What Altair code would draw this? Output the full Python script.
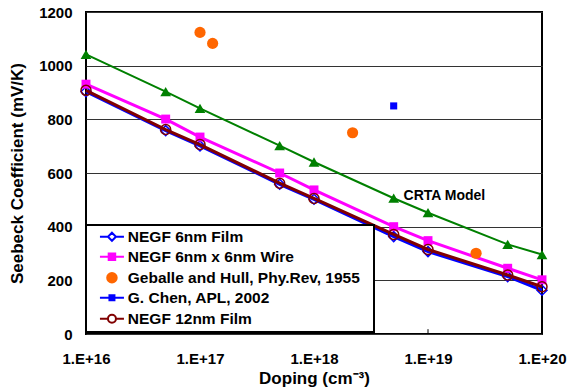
import altair as alt
import pandas as pd

# ---------------- data ----------------
doping = [1e16, 5e16, 1e17, 5e17, 1e18, 5e18, 1e19, 5e19, 1e20]
negf_6nm_film = [903, 758, 701, 558, 502, 363, 307, 214, 163]
negf_6nm_wire = [931, 801, 734, 600, 537, 400, 348, 245, 202]
negf_12nm_film = [908, 762, 706, 562, 505, 371, 315, 220, 176]
crta_model = [1042, 903, 841, 702, 641, 506, 452, 334, 296]

geballe_doping = [1.0e17, 1.29e17, 2.18e18, 2.64e19]
geballe_seebeck = [1124, 1083, 750, 301]

chen_doping = [5.0e18]
chen_seebeck = [850]

crta_label_doping = [6.1e18]
crta_label_seebeck = [516]
crta_label = ["CRTA Model"]

x_ticks = [1e16, 1e17, 1e18, 1e19, 1e20]
inner_ticks = [1e17, 1e18, 1e19]
y_ticks = [0, 200, 400, 600, 800, 1000, 1200]

legend_names = [
    "NEGF 6nm Film",
    "NEGF 6nm x 6nm Wire",
    "Geballe and Hull, Phy.Rev, 1955",
    "G. Chen, APL, 2002",
    "NEGF 12nm Film",
]

# ---------------- styles ----------------
BLUE = "#0000FF"
MAGENTA = "#FF00FF"
ORANGE = "#FF6600"
BROWN = "#800000"
GREEN = "#008000"
FONT = "Liberation Sans"

legend_shapes = [
    "M-2.4,0H-0.8M0.8,0H2.4M0,-0.8L0.8,0L0,0.8L-0.8,0Z",
    "M-2.4,0H2.4M-0.65,-0.65H0.65V0.65H-0.65Z",
    "M0.95,0A0.95,0.95,0,1,1,-0.95,0A0.95,0.95,0,1,1,0.95,0Z",
    "M-2.4,0H2.4M-0.5,-0.5H0.5V0.5H-0.5Z",
    "M-2.4,0H-0.8M0.8,0H2.4M0.8,0A0.8,0.8,0,1,1,-0.8,0A0.8,0.8,0,1,1,0.8,0Z",
]
legend_fill = ["white", MAGENTA, ORANGE, BLUE, "white"]
legend_stroke = [BLUE, MAGENTA, ORANGE, BLUE, BROWN]


def frame(xs, ys):
    return pd.DataFrame({"x": xs, "y": ys})


x_scale = alt.Scale(type="log", domain=[1e16, 1e20], nice=False)
y_scale = alt.Scale(domain=[0, 1200], nice=False, zero=False)

x_axis = alt.Axis(
    values=x_ticks,
    labelExpr="'1.E+' + round(log(datum.value) / LN10)",
    title="Doping (cm⁻³)",
    grid=False, ticks=False, tickSize=0, domain=False,
    labelFlush=False, labelOverlap=False, labelPadding=17,
    labelFont=FONT, labelFontWeight="bold", labelFontSize=15, labelColor="black",
    titleFont=FONT, titleFontWeight="bold", titleFontSize=17, titleColor="black",
    titleX=228, titleY=44, titleAlign="center", titleBaseline="middle",
)
y_axis = alt.Axis(
    values=y_ticks, format="d",
    title="Seebeck Coefficient (mV/K)",
    grid=True, gridColor="#333333", gridWidth=1,
    ticks=False, tickSize=0, domain=False, labelPadding=14,
    labelFont=FONT, labelFontWeight="bold", labelFontSize=15, labelColor="black",
    titleFont=FONT, titleFontWeight="bold", titleFontSize=17, titleColor="black",
    titleX=-69, titleY=161, titleAngle=270, titleAlign="center", titleBaseline="middle",
)

X = alt.X("x:Q", scale=x_scale, axis=x_axis)
Y = alt.Y("y:Q", scale=y_scale, axis=y_axis)

layers = []


def series(xs, ys, color, width, shape, size, filled, sw=1.5):
    d = frame(xs, ys)
    layers.append(alt.Chart(d).mark_line(color=color, strokeWidth=width).encode(x=X, y=Y))
    layers.append(
        alt.Chart(d).mark_point(shape=shape, size=size, filled=filled, color=color,
                                strokeWidth=sw, opacity=1).encode(x=X, y=Y)
    )


series(doping, negf_6nm_film, BLUE, 3, "diamond", 100, False)
series(doping, negf_6nm_wire, MAGENTA, 3, "square", 80, True)
layers.append(
    alt.Chart(frame(geballe_doping, geballe_seebeck))
    .mark_point(shape="circle", size=125, filled=True, color=ORANGE, opacity=1)
    .encode(x=X, y=Y)
)
layers.append(
    alt.Chart(frame(chen_doping, chen_seebeck))
    .mark_point(shape="square", size=50, filled=True, color=BLUE, opacity=1)
    .encode(x=X, y=Y)
)
series(doping, negf_12nm_film, BROWN, 3, "circle", 100, False)
series(doping, crta_model, GREEN, 2, "triangle-up", 115, True)

# CRTA label
layers.append(
    alt.Chart(pd.DataFrame({"x": crta_label_doping, "y": crta_label_seebeck, "t": crta_label}))
    .mark_text(align="left", baseline="middle", font=FONT, fontWeight="bold",
               fontSize=14, color="black")
    .encode(x=X, y=Y, text="t:N")
)

# inward tick marks on x axis
tick_df = pd.DataFrame({"x": inner_ticks, "y": [0] * len(inner_ticks),
                        "y2": [18] * len(inner_ticks)})
layers.append(
    alt.Chart(tick_df).mark_rule(color="black", strokeWidth=1)
    .encode(x=X, y=Y, y2="y2:Q")
)

# invisible layer that drives the legend
leg_df = pd.DataFrame({
    "x": [doping[0], doping[0], geballe_doping[0], chen_doping[0], doping[0]],
    "y": [negf_6nm_film[0], negf_6nm_wire[0], geballe_seebeck[0], chen_seebeck[0],
          negf_12nm_film[0]],
    "series": legend_names,
})
LEG_TITLE = " "
layers.append(
    alt.Chart(leg_df).mark_point(opacity=0, size=100, filled=False)
    .encode(
        x=X, y=Y,
        shape=alt.Shape("series:N", title=LEG_TITLE,
                        scale=alt.Scale(domain=legend_names, range=legend_shapes)),
        fill=alt.Fill("series:N", title=LEG_TITLE,
                      scale=alt.Scale(domain=legend_names, range=legend_fill)),
        stroke=alt.Stroke("series:N", title=LEG_TITLE,
                          scale=alt.Scale(domain=legend_names, range=legend_stroke)),
    )
)

chart = (
    alt.layer(*layers)
    .properties(
        width=456, height=322,
        autosize=alt.AutoSizeParams(type="none"),
        padding={"left": 86, "top": 12, "right": 26, "bottom": 58},
        background="white",
    )
    .configure_view(stroke="black", strokeWidth=2)
    .configure_legend(
        orient="none", legendX=0, legendY=213,
        padding=4, rowPadding=3,
        fillColor="white", strokeColor="black", strokeWidth=2,
        symbolOffset=14.2, labelOffset=8.1,
        symbolSize=100, symbolStrokeWidth=2, symbolOpacity=1,
        labelFont=FONT, labelFontWeight="bold", labelFontSize=15.5,
        labelColor="black", labelLimit=400,
        titleOrient="right", titleFontSize=1, titlePadding=10,
    )
)

chart.save("out.html", embed_options={"renderer": "svg", "actions": False})
